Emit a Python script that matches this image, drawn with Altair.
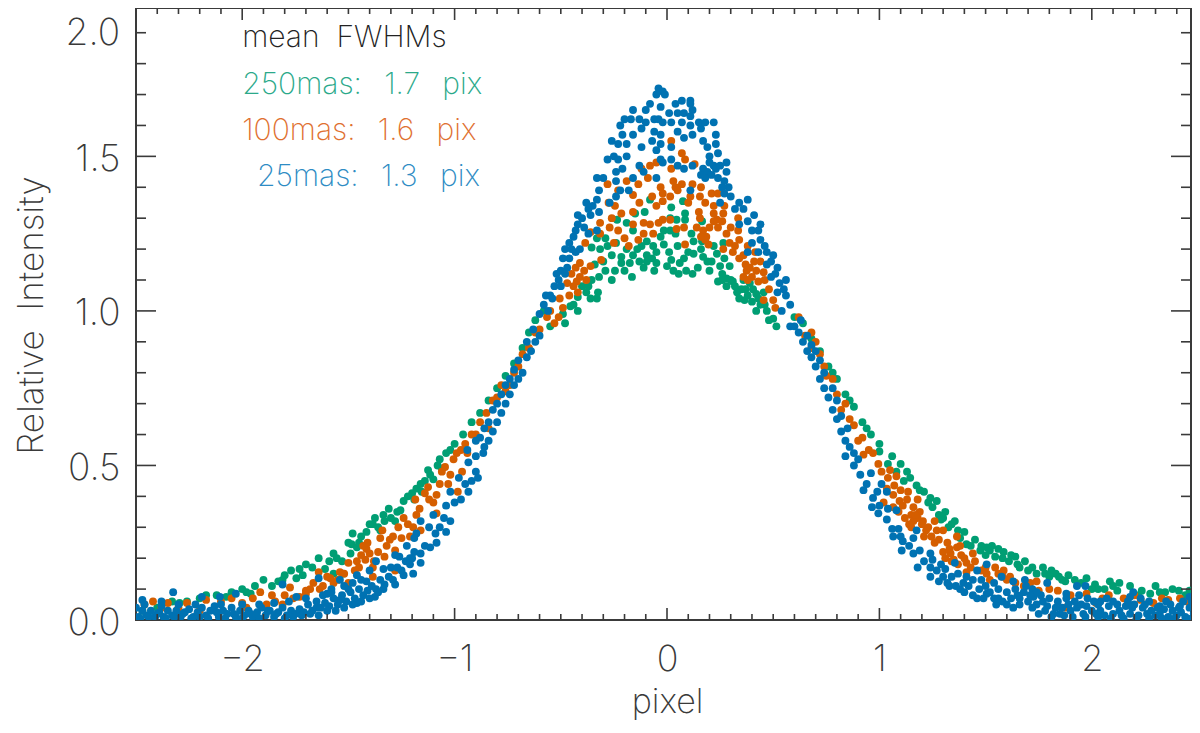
import altair as alt
import pandas as pd

# Values: (pixel offset, relative intensity)
green_center = [(-.08,1.36),(.02,1.335),(.075,1.355),(-.105,1.32),(-.15,1.315),(.085,1.315),(.015,1.30),(.045,1.295),(.085,1.295),(.165,1.29),(-.235,1.295),(-.19,1.285),(-.16,1.26),(-.015,1.26),(.015,1.26),(.115,1.25),(-.33,1.235),(-.29,1.235),(-.095,1.225),(-.015,1.215),(-.065,1.21),(.125,1.225),(.165,1.225),(.22,1.21),(.265,1.22),(-.355,1.205),(-.315,1.20),(-.26,1.18),(-.215,1.175),(-.16,1.18),(-.095,1.18),(-.05,1.19),(.125,1.185),(.17,1.175),(.235,1.185),(-.215,1.155),(-.175,1.155),(-.095,1.16),(-.11,1.14),(-.05,1.155),(0,1.145),(.02,1.165),(.06,1.155),(.09,1.13),(.055,1.12),(.145,1.14),(.20,1.13),(.25,1.145),(.295,1.145),(-.245,1.13),(-.20,1.13),(-.165,1.11),(-.26,1.10),(-.32,1.11),(-.355,1.10),(.24,1.095),(.28,1.105),(.31,1.095),(.28,1.08),(.35,1.07),(.405,1.07),(.365,1.035),(.42,1.055),(.455,1.06),(.42,1.00),(.47,1.0),(.50,.975),(.515,.95),(-.38,1.06),(-.325,1.06),(-.33,1.04),(-.42,1.045),(-.455,1.015),(-.42,1.0),(-.49,.99),(-.48,.96),(-.55,.95),(.32,1.08),(.33,1.06),(.30,1.10),(.26,1.12),(.38,1.05),(.40,1.03),(.44,1.02),(.39,1.09),(.36,1.10),(-.40,1.08),(-.36,1.04),(-.30,1.16),(-.28,1.21),(-.24,1.22),(-.12,1.21),(-.03,1.24),(.05,1.21),(.10,1.19),(.19,1.16),(-.06,1.13),(.03,1.13),(.12,1.12),(-.14,1.20),(.04,1.25),(-.07,1.17),(-.13,1.16),(.01,1.19),(.08,1.17),(.16,1.20),(.21,1.16),(.27,1.17),(-.19,1.20),(-.29,1.13),(-.34,1.15),(-.37,1.08),(-.44,1.02),(.34,1.04),(.37,1.07),(.43,1.04),(.46,1.02),(.48,.97),(.26,1.10)]
green_left = [(-.58,1.0),(-.62,.97),(-.65,.93),(-.68,.88),(-.72,.83),(-.76,.79),(-.80,.75),(-.84,.71),(-.88,.67),(-.92,.64),(-.96,.60),(-1.0,.57),(-1.04,.54),(-1.08,.50),(-1.125,.485),(-1.10,.455),(-1.115,.47),(-1.20,.41),(-1.18,.425),(-1.155,.415),(-1.24,.385),(-1.255,.355),(-1.31,.36),(-1.335,.34),(-1.375,.33),(-1.33,.32),(-1.28,.32),(-1.385,.31),(-1.48,.28),(-1.415,.285),(-1.44,.27),(-1.35,.29),(-1.485,.245),(-1.46,.235),(-1.49,.215),(-1.57,.215),(-1.555,.20),(-1.64,.20),(-1.70,.18),(-1.77,.16),(-1.715,.145),(-1.745,.135),(-1.61,.165),(-1.90,.13),(-1.83,.125),(-1.81,.13),(-1.94,.11),(-2.0,.10),(-2.12,.08),(-2.075,.075),(-2.17,.08),(-2.26,.06),(-2.33,.06),(-2.295,.055),(-1.96,.085),(-1.57,.15),(-1.525,.15),(-2.47,.03),(-2.40,.04),(-1.16,.44),(-1.07,.52),(-1.22,.40),(-1.06,.49),(-1.02,.55),(-1.14,.45),(-1.19,.39),(-1.27,.35),(-1.30,.33),(-1.36,.30),(-1.40,.31),(-1.45,.25),(-1.50,.25),(-1.53,.19),(-1.59,.19),(-1.67,.17),(-1.73,.165),(-1.80,.145),(-1.86,.11),(-1.98,.09),(-2.05,.09),(-2.20,.07)]
green_right = [(.60,.98),(.64,.96),(.68,.91),(.72,.87),(.76,.82),(.78,.80),(.80,.78),(.84,.73),(.86,.71),(.88,.69),(.92,.64),(.94,.62),(.96,.60),(1.0,.57),(1.0,.545),(1.06,.53),(1.10,.505),(1.04,.505),(1.145,.46),(1.115,.45),(1.175,.435),(1.21,.415),(1.24,.395),(1.27,.385),(1.25,.365),(1.31,.35),(1.28,.34),(1.29,.325),(1.355,.32),(1.325,.30),(1.40,.285),(1.38,.265),(1.45,.26),(1.41,.245),(1.505,.235),(1.475,.225),(1.52,.225),(1.585,.22),(1.545,.205),(1.64,.205),(1.61,.19),(1.685,.19),(1.66,.17),(1.70,.16),(1.77,.17),(1.74,.15),(1.81,.16),(1.845,.14),(1.89,.145),(1.875,.125),(1.975,.135),(2.015,.115),(2.085,.125),(2.06,.10),(2.13,.12),(2.18,.11),(2.235,.095),(2.30,.11),(2.345,.09),(2.41,.095),(2.46,.095),(2.49,.10),(2.275,.085),(2.12,.095),(1.48,.24),(1.53,.24),(1.56,.23),(1.62,.21),(1.95,.12),(2.03,.10),(1.92,.13),(1.78,.15),(1.83,.15),(2.38,.10),(1.08,.48),(1.13,.48),(1.19,.42),(1.23,.38),(1.30,.33),(1.34,.31),(1.37,.29),(1.43,.24),(1.50,.21),(1.58,.20),(1.65,.18),(1.72,.17),(1.80,.14),(1.86,.13),(2.00,.10),(2.10,.11),(2.22,.08),(2.32,.09),(2.44,.08)]

orange_center = [(.02,1.55),(.07,1.51),(.085,1.49),(.13,1.475),(-.08,1.47),(-.05,1.48),(.02,1.46),(-.12,1.46),(-.09,1.43),(.03,1.42),(-.19,1.42),(-.28,1.41),(-.03,1.40),(.07,1.41),(.04,1.40),(.12,1.41),(.16,1.40),(-.135,1.41),(-.23,1.39),(-.16,1.375),(.21,1.38),(.24,1.38),(-.02,1.38),(.015,1.37),(.11,1.37),(.155,1.37),(-.07,1.37),(-.02,1.355),(-.275,1.35),(-.245,1.34),(.22,1.34),(.22,1.315),(.265,1.315),(.15,1.32),(.155,1.30),(-.215,1.315),(-.26,1.30),(-.16,1.32),(.235,1.295),(.335,1.30),(-.315,1.285),(-.27,1.27),(-.23,1.26),(-.16,1.28),(-.11,1.285),(-.08,1.28),(-.02,1.295),(.015,1.295),(-.04,1.285),(.08,1.27),(.045,1.265),(.14,1.27),(.17,1.26),(.24,1.27),(-.36,1.255),(-.315,1.25),(-.11,1.25),(-.065,1.25),(.185,1.24),(.28,1.25),(.335,1.26),(-.385,1.22),(-.25,1.22),(-.2,1.235),(-.18,1.21),(-.135,1.23),(.085,1.215),(.195,1.215),(.295,1.22),(.34,1.23),(.265,1.20),(.31,1.19),(.36,1.18),(.415,1.19),(-.31,1.165),(-.41,1.155),(-.36,1.145),(-.45,1.12),(-.41,1.11),(-.425,1.095),(-.42,1.06),(.375,1.13),(.42,1.13),(.36,1.11),(.455,1.125),(.43,1.095),(.50,1.035),(.455,1.035),(.51,1.01),(-.505,1.04),(-.55,1.0),(-.565,.98),(-.51,.98),(-.53,.96),(.37,1.15),(.39,1.14),(.40,1.11),(.38,1.10),(.41,1.16),(-.39,1.13),(-.43,1.14),(-.38,1.10),(-.44,1.08),(.22,1.29),(.20,1.27),(.18,1.23),(.16,1.24),(.26,1.29),(.32,1.21),(.34,1.17),(.44,1.16),(.05,1.39),(.10,1.35),(-.05,1.34),(-.13,1.35),(.18,1.35),(.27,1.34),(.30,1.27),(.38,1.21),(.46,1.10),(.48,1.07),(-.47,1.09),(-.49,1.01),(-.46,1.05)]
orange_left = [(-.60,.94),(-.62,.93),(-.65,.88),(-.68,.86),(-.70,.82),(-.72,.80),(-.74,.76),(-.76,.74),(-.78,.76),(-.80,.72),(-.82,.71),(-.84,.62),(-.85,.67),(-.88,.64),(-.90,.60),(-.92,.60),(-.95,.57),(-.97,.55),(-.99,.54),(-.94,.54),(-1.005,.52),(-1.045,.495),(-.965,.48),(-1.03,.44),(-.985,.415),(-1.125,.43),(-1.085,.405),(-1.185,.39),(-1.10,.38),(-1.165,.36),(-1.085,.345),(-1.24,.33),(-1.265,.30),(-1.195,.30),(-1.16,.29),(-1.35,.265),(-1.305,.26),(-1.25,.265),(-1.415,.23),(-1.40,.215),(-1.33,.205),(-1.28,.225),(-1.46,.19),(-1.42,.195),(-1.50,.185),(-1.385,.17),(-1.28,.16),(-1.385,.14),(-1.54,.155),(-1.64,.155),(-1.585,.135),(-1.50,.12),(-1.665,.12),(-1.70,.095),(-1.775,.105),(-1.915,.09),(-1.86,.08),(-1.70,.085),(-1.76,.07),(-1.845,.06),(-2.0,.055),(-2.10,.06),(-2.17,.065),(-2.26,.055),(-2.35,.055),(-2.42,.06),(-2.46,.05),(-2.38,.04),(-2.2,.03),(-1.98,.04),(-1.885,.05),(-1.81,.05),(-1.635,.10),(-1.57,.12),(-1.73,.075),(-1.43,.24),(-1.41,.25),(-1.44,.21),(-1.38,.19),(-1.45,.17),(-1.55,.13),(-1.62,.11),(-1.06,.48),(-1.02,.47),(-1.07,.44),(-1.14,.41),(-1.22,.31),(-1.32,.24),(-1.34,.29),(-1.12,.39),(-1.18,.34),(-1.21,.27),(-1.29,.27),(-1.36,.22),(-1.47,.16),(-1.52,.15),(-1.60,.14),(-1.68,.10),(-1.80,.08),(-1.95,.07),(-2.05,.07),(-2.30,.04)]
orange_right = [(.62,.98),(.65,.92),(.68,.88),(.68,.93),(.70,.90),(.72,.86),(.74,.82),(.75,.79),(.78,.78),(.80,.73),(.84,.70),(.82,.68),(.86,.65),(.88,.63),(.90,.58),(.92,.59),(.95,.55),(.925,.535),(.97,.54),(.995,.505),(1.01,.48),(1.05,.485),(1.08,.465),(1.07,.435),(1.035,.425),(1.135,.415),(1.065,.405),(1.18,.39),(1.095,.385),(1.02,.38),(1.065,.365),(1.16,.365),(1.19,.35),(1.15,.34),(1.16,.32),(1.205,.32),(1.26,.32),(1.14,.31),(1.22,.29),(1.30,.29),(1.245,.27),(1.28,.26),(1.365,.27),(1.32,.25),(1.365,.235),(1.335,.215),(1.385,.21),(1.44,.215),(1.35,.195),(1.41,.185),(1.41,.155),(1.505,.15),(1.545,.17),(1.585,.16),(1.615,.14),(1.64,.12),(1.71,.12),(1.75,.095),(1.84,.095),(1.875,.04),(1.975,.085),(2.08,.08),(2.15,.07),(2.23,.065),(2.29,.055),(2.36,.065),(2.415,.07),(2.02,.055),(1.74,.125),(2.48,.04),(1.18,.33),(1.20,.31),(1.17,.34),(1.23,.30),(1.13,.39),(1.11,.37),(1.38,.24),(1.33,.23),(1.40,.20),(1.30,.22),(1.48,.16),(1.56,.15),(1.10,.42),(1.04,.46),(1.12,.33),(1.27,.29),(1.31,.20),(1.45,.19),(1.52,.13),(1.60,.13),(1.68,.11),(1.80,.10),(1.90,.08),(2.05,.07),(2.20,.08),(2.33,.07),(2.45,.06),(1.21,.27),(1.26,.25),(1.15,.30),(1.09,.35),(1.34,.19),(1.37,.18),(1.43,.17),(1.50,.17),(1.58,.14)]

blue_center = [(-.04,1.72),(-.02,1.71),(-.01,1.70),(-.05,1.70),(-.08,1.67),(-.16,1.65),(-.03,1.66),(-.10,1.65),(.04,1.67),(.07,1.68),(.11,1.68),(.11,1.67),(.01,1.64),(.05,1.64),(.08,1.64),(.12,1.65),(.11,1.63),(-.06,1.62),(-.20,1.62),(-.17,1.62),(-.13,1.62),(-.10,1.61),(-.04,1.62),(-.02,1.61),(.02,1.61),(.07,1.61),(.15,1.61),(.18,1.61),(.22,1.61),(.11,1.60),(-.22,1.60),(-.12,1.59),(-.06,1.58),(-.03,1.57),(.05,1.58),(.12,1.57),(.16,1.59),(.23,1.57),(.08,1.56),(-.16,1.57),(-.21,1.57),(-.26,1.55),(-.23,1.54),(-.19,1.54),(-.12,1.53),(-.07,1.55),(-.03,1.54),(.02,1.53),(.17,1.55),(.19,1.53),(.23,1.54),(.24,1.51),(.20,1.50),(-.05,1.52),(-.03,1.49),(-.02,1.48),(.02,1.49),(.05,1.47),(.08,1.46),(.12,1.47),(-.28,1.49),(-.25,1.50),(-.23,1.49),(-.19,1.50),(-.13,1.47),(.28,1.48),(.22,1.47),(.17,1.46),(.16,1.44),(.19,1.45),(.23,1.46),(.28,1.45),(.27,1.42),(.29,1.40),(-.33,1.43),(-.30,1.43),(-.24,1.42),(-.21,1.46),(-.24,1.45),(-.16,1.43),(-.11,1.45),(-.05,1.43),(-.22,1.39),(-.18,1.39),(-.24,1.37),(-.32,1.39),(-.38,1.35),(-.33,1.36),(-.37,1.33),(-.27,1.35),(-.32,1.32),(-.42,1.31),(-.42,1.28),(-.39,1.27),(-.43,1.26),(-.37,1.25),(-.33,1.26),(-.46,1.22),(-.48,1.20),(-.43,1.19),(-.41,1.20),(-.46,1.17),(-.47,1.14),(-.50,1.13),(-.51,1.10),(-.53,1.08),(-.55,1.05),(-.58,1.02),(-.60,.99),(-.63,.94),(.11,1.39),(.27,1.38),(.30,1.37),(.25,1.35),(.34,1.35),(.38,1.36),(.36,1.33),(.41,1.31),(.38,1.29),(.34,1.28),(.40,1.26),(.44,1.23),(.40,1.22),(.47,1.19),(.38,1.19),(.47,1.15),(.52,1.14),(.49,1.11),(.53,1.09),(.56,1.05),(.58,1.02),(.63,.97),(.60,.95),(.58,.95),(.54,1.00),(.52,1.06),(-.40,1.30),(-.36,1.31),(-.35,1.34),(-.44,1.24),(-.45,1.20),(-.49,1.17),(-.48,1.12),(-.52,1.12),(-.50,1.08),(-.54,1.04),(-.57,1.05),(-.56,1.00),(.44,1.28),(.43,1.26),(.46,1.21),(.49,1.16),(.50,1.18),(.51,1.12),(.55,1.07),(.56,1.10),(.20,1.48),(.21,1.44),(.26,1.40),(.24,1.43),(.18,1.43),(.25,1.47),(.32,1.33),(.43,1.19)]
blue_left = [(-.66,.90),(-.60,.92),(-.62,.90),(-.64,.87),(-.66,.85),(-.68,.80),(-.70,.84),(-.70,.78),(-.72,.81),(-.72,.76),(-.74,.78),(-.74,.73),(-.76,.76),(-.76,.70),(-.78,.73),(-.78,.67),(-.80,.70),(-.80,.64),(-.82,.68),(-.82,.61),(-.84,.64),(-.84,.58),(-.86,.62),(-.86,.56),(-.88,.59),(-.90,.58),(-.94,.55),(-.865,.54),(-.90,.53),(-.935,.51),(-.90,.48),(-.89,.46),(-.98,.46),(-1.02,.415),(-.935,.415),(-.97,.39),(-1.04,.37),(-1.10,.34),(-1.02,.32),(-1.07,.30),(-1.12,.30),(-1.16,.32),(-1.18,.28),(-1.19,.265),(-1.04,.285),(-1.085,.25),(-1.225,.24),(-1.115,.235),(-1.16,.215),(-1.26,.205),(-1.16,.185),(-1.21,.18),(-1.28,.21),(-1.195,.15),(-1.24,.145),(-1.28,.115),(-1.335,.165),(-1.37,.19),(-1.415,.125),(-1.335,.10),(-1.375,.075),(-1.46,.145),(-1.54,.13),(-1.64,.135),(-1.60,.085),(-1.46,.055),(-1.54,.065),(-1.65,.04),(-1.745,.075),(-1.81,.115),(-2.03,.085),(-2.105,.075),(-2.19,.075),(-2.325,.09),(-2.47,.065),(-2.38,.06),(-.95,.44),(-.92,.45),(-1.00,.38),(-1.05,.33),(-1.09,.28),(-1.14,.24),(-1.20,.20),(-1.30,.17),(-1.40,.16),(-1.50,.10),(-1.58,.10)]
blue_left_base = [(-2.49,.01),(-2.47,.03),(-2.45,.015),(-2.43,.03),(-2.41,.01),(-2.39,.025),(-2.37,.01),(-2.35,.03),(-2.33,.015),(-2.31,.03),(-2.29,.01),(-2.27,.025),(-2.25,.035),(-2.23,.01),(-2.21,.025),(-2.19,.04),(-2.17,.015),(-2.15,.03),(-2.13,.045),(-2.11,.01),(-2.09,.03),(-2.07,.02),(-2.05,.04),(-2.03,.01),(-2.01,.03),(-1.99,.015),(-1.97,.03),(-1.95,.01),(-1.93,.025),(-1.91,.04),(-1.89,.015),(-1.87,.03),(-1.85,.01),(-1.83,.025),(-1.81,.04),(-1.79,.015),(-1.77,.03),(-1.75,.02),(-1.73,.035),(-1.71,.025),(-1.69,.05),(-1.67,.03),(-1.65,.06),(-1.63,.04),(-1.61,.055),(-1.59,.045),(-1.57,.07),(-1.55,.05),(-1.53,.08),(-1.51,.06),(-1.49,.09),(-1.47,.07),(-1.45,.10),(-1.43,.08),(-1.41,.095),(-1.39,.11),(-1.37,.10),(-1.35,.13),(-1.33,.115),(-1.31,.14),(-1.29,.13),(-1.27,.17),(-1.25,.16),(-1.23,.19),(-1.21,.20),(-1.19,.22),(-2.5,.04),(-2.46,.05),(-2.38,.045),(-2.3,.05),(-2.22,.05),(-2.1,.05),(-2.0,.05),(-1.92,.05),(-1.85,.055),(-1.78,.06),(-1.7,.07),(-1.62,.08),(-1.58,.09),(-1.52,.11),(-1.48,.12),(-1.44,.13),(-2.48,.005),(-2.44,.01),(-2.40,.02),(-2.36,.005),(-2.32,.01),(-2.28,.02),(-2.24,.005),(-2.20,.01),(-2.16,.005),(-2.12,.025),(-2.08,.005),(-2.04,.02),(-2.00,.005),(-1.96,.02),(-1.92,.005),(-1.88,.03),(-1.84,.02),(-1.80,.005),(-1.76,.01),(-1.72,.015),(-1.68,.02),(-1.64,.015),(-1.60,.03),(-1.56,.03),(-1.52,.04),(-1.48,.05),(-1.44,.06),(-1.40,.07),(-1.36,.09)]
blue_right = [(.62,.93),(.64,.90),(.66,.87),(.66,.92),(.68,.85),(.68,.89),(.70,.82),(.70,.87),(.72,.78),(.72,.84),(.74,.75),(.74,.80),(.76,.72),(.78,.68),(.78,.75),(.80,.65),(.80,.71),(.82,.61),(.82,.66),(.84,.58),(.85,.62),(.86,.56),(.88,.54),(.90,.52),(.84,.53),(.88,.50),(.91,.47),(.96,.475),(1.01,.44),(.925,.42),(.99,.415),(.97,.395),(.965,.365),(1.035,.415),(.995,.345),(1.035,.325),(1.08,.355),(1.06,.295),(1.09,.295),(1.065,.27),(1.175,.29),(1.11,.255),(1.16,.265),(1.105,.225),(1.16,.215),(1.19,.225),(1.24,.215),(1.25,.195),(1.18,.17),(1.24,.17),(1.31,.165),(1.355,.185),(1.24,.14),(1.28,.125),(1.34,.14),(1.38,.10),(1.395,.12),(1.46,.16),(1.505,.18),(1.44,.13),(1.46,.07),(1.505,.085),(1.55,.05),(1.63,.04),(1.575,.14),(1.63,.125),(1.685,.13),(1.725,.075),(1.79,.12),(1.79,.045),(1.88,.085),(1.93,.11),(1.97,.11),(1.975,.045),(2.195,.09),(2.18,.075),(2.04,.03),(2.32,.045),(2.46,.075),(2.415,.045),(.94,.44),(1.00,.37),(1.04,.36),(1.10,.27),(1.14,.24),(1.21,.19),(1.27,.16),(1.33,.11)]
blue_right_base = [(1.30,.14),(1.32,.12),(1.36,.11),(1.40,.09),(1.42,.11),(1.44,.08),(1.47,.10),(1.49,.07),(1.50,.11),(1.52,.09),(1.54,.07),(1.56,.10),(1.58,.06),(1.60,.09),(1.62,.07),(1.64,.10),(1.66,.07),(1.68,.09),(1.70,.06),(1.72,.10),(1.74,.05),(1.76,.08),(1.78,.03),(1.80,.07),(1.82,.02),(1.84,.06),(1.86,.04),(1.88,.07),(1.90,.03),(1.92,.06),(1.94,.08),(1.96,.02),(1.98,.07),(2.00,.03),(2.02,.02),(2.04,.06),(2.06,.015),(2.08,.045),(2.10,.02),(2.12,.05),(2.14,.015),(2.16,.045),(2.18,.02),(2.20,.05),(2.22,.015),(2.24,.04),(2.26,.02),(2.28,.03),(2.30,.015),(2.32,.02),(2.34,.035),(2.36,.01),(2.38,.03),(2.40,.015),(2.42,.025),(2.44,.01),(2.46,.04),(2.48,.02),(2.49,.06),(2.50,.03),(2.43,.06),(2.37,.05),(2.27,.06),(2.17,.06),(2.23,.07),(2.10,.06),(2.03,.05),(1.93,.04),(1.85,.02),(1.74,.09),(1.69,.11),(1.56,.07),(1.60,.05),(1.66,.05),(1.72,.04),(1.77,.06),(1.83,.04),(1.89,.05),(1.95,.05),(2.01,.06),(2.07,.07),(2.13,.03),(2.19,.04),(2.25,.05),(2.31,.04),(2.35,.06),(2.41,.04),(2.47,.06),(1.75,.02),(1.81,.01),(1.87,.015),(1.91,.01),(1.97,.01),(2.03,.01),(2.09,.005),(2.15,.005),(2.21,.005),(2.27,.005),(2.33,.005),(2.39,.005),(2.45,.005),(1.65,.08),(1.71,.08),(1.54,.12),(1.48,.13),(1.41,.14),(1.37,.15),(1.29,.18)]

series = [("250mas", green_center + green_left + green_right),
          ("100mas", orange_center + orange_left + orange_right),
          ("25mas", blue_center + blue_left + blue_left_base + blue_right + blue_right_base)]
names = ["250mas", "100mas", "25mas"]
colors = ["#009E73", "#D55E00", "#0072B2"]

x_major = [-2, -1, 0, 1, 2]
x_minor = [v / 10 for v in range(-24, 25) if v % 10 != 0]
y_major = [0.5, 1.0, 1.5]
y_minor = [v / 10 for v in range(1, 20) if v % 5 != 0]

SP = "\u00a0\u00a0\u2009"
note_text = ["mean\u00a0\u00a0FWHMs", "250mas:" + SP + "1.7" + SP + "pix", "100mas:" + SP + "1.6" + SP + "pix", "25mas:" + SP + "1.3" + SP + "pix"]
note_x = [-2.0, -2.0, -2.0, -1.93]
note_y = [1.854, 1.703, 1.553, 1.404]
note_col = ["#222222", "#2BA98A", "#E07030", "#2E8CC4"]

FONT = "Inter"
INK = "#3a3a3a"
XD = [-2.5, 2.467]
YD = [0, 1.98]
W, H = 1055, 612

rows = [{"x": a, "y": b, "s": n} for n, pts in series for a, b in pts]
xs = alt.Scale(domain=XD, nice=False, zero=False)
ys = alt.Scale(domain=YD, nice=False, zero=False)

XAX = alt.Axis(
    values=x_major, format="d", grid=False, domain=False, ticks=False,
    labelFont=FONT, labelFontSize=36, labelFontWeight=200, labelColor=INK, labelPadding=22,
    title="pixel", titleFont=FONT, titleFontSize=34, titleFontWeight=200, titleColor=INK,
    titleX=531, titleY=92, titleBaseline="alphabetic", titleAnchor="middle")
YAX = alt.Axis(
    values=[0.0] + y_major, format=".1f", grid=False, domain=False, ticks=False,
    labelFont=FONT, labelFontSize=37, labelFontWeight=200, labelColor=INK, labelPadding=16, labelOffset=3,
    labelFlush=False, labelOverlap=False,
    title="Relative\u00a0\u00a0Intensity", titleFont=FONT, titleFontSize=35, titleFontWeight=200, titleColor=INK,
    titleX=-94, titleY=307, titleBaseline="alphabetic", titleAngle=270, titleAnchor="middle")

dots = alt.Chart(pd.DataFrame(rows)).mark_circle(size=62, opacity=1, clip=True).encode(
    x=alt.X("x:Q", scale=xs, axis=XAX),
    y=alt.Y("y:Q", scale=ys, axis=YAX),
    color=alt.Color("s:N", scale=alt.Scale(domain=names, range=colors), legend=None),
)

def xticks(vals, y0, y1):
    return alt.Chart(pd.DataFrame({"x": vals})).mark_rule(color=INK, strokeWidth=1.6).encode(
        x=alt.X("x:Q", scale=xs, axis=XAX), y=alt.value(y0), y2=alt.value(y1))

def yticks(vals, x0, x1):
    return alt.Chart(pd.DataFrame({"y": vals})).mark_rule(color=INK, strokeWidth=1.6).encode(
        y=alt.Y("y:Q", scale=ys, axis=YAX), x=alt.value(x0), x2=alt.value(x1))

ticks = [xticks(x_major, H, H - 12), xticks(x_minor, H, H - 6),
         xticks(x_major, 0, 12), xticks(x_minor, 0, 6),
         yticks(y_major, 0, 20), yticks(y_minor, 0, 10),
         yticks(y_major, W, W - 20), yticks(y_minor, W, W - 10)]

notes = alt.Chart(pd.DataFrame({"t": note_text, "x": note_x, "y": note_y, "c": note_col})).mark_text(
    font=FONT, fontSize=30, fontWeight=200, align="left", baseline="alphabetic").encode(
    x=alt.X("x:Q", scale=xs, axis=XAX), y=alt.Y("y:Q", scale=ys, axis=YAX),
    text="t:N", color=alt.Color("c:N", scale=None))

top_label = alt.Chart(pd.DataFrame({"t": ["2.0"], "x": [-2.575], "y": [1.861]})).mark_text(
    font=FONT, fontSize=37, fontWeight=200, align="right", baseline="alphabetic", color=INK).encode(
    x=alt.X("x:Q", scale=xs, axis=XAX), y=alt.Y("y:Q", scale=ys, axis=YAX), text="t:N")

chart = alt.layer(dots, *ticks, notes, top_label).properties(
    width=W, height=H,
    autosize=alt.AutoSizeParams(type="none"),
    padding={"left": 128, "top": 0, "right": 1, "bottom": 100},
).configure_view(stroke=INK, strokeWidth=2)

chart.save("out.html", embed_options={"renderer": "svg", "actions": False})
